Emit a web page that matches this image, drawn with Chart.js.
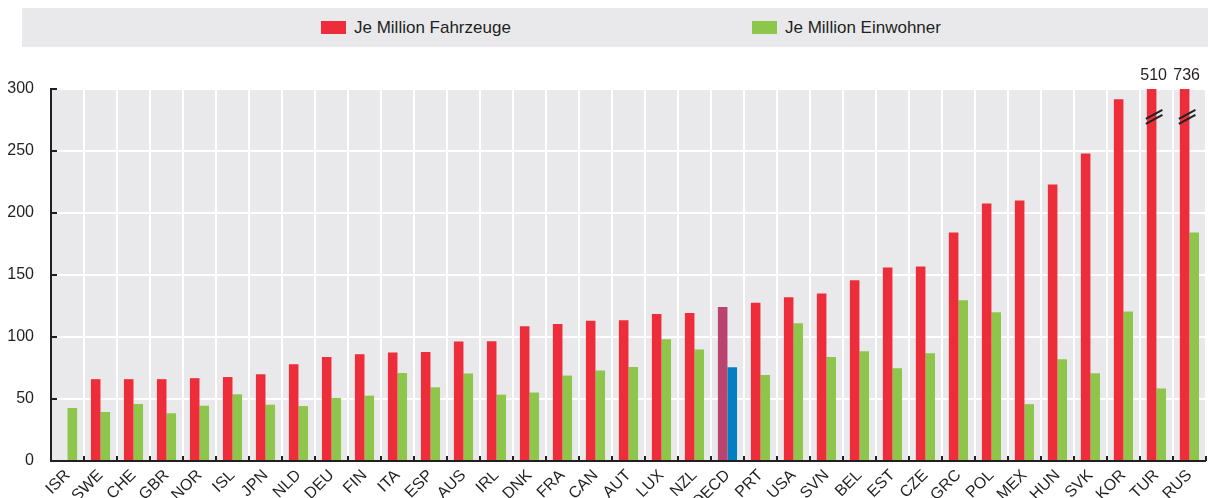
<!DOCTYPE html>
<html>
<head>
<meta charset="utf-8">
<script src="https://cdn.jsdelivr.net/npm/chart.js@4/dist/chart.umd.min.js"></script>
<style>
  html, body { margin: 0; padding: 0; background: #fff; }
  body { width: 1208px; height: 498px; position: relative; overflow: hidden; font-family: 'Liberation Sans', Arial, sans-serif; }
  #legend { position: absolute; left: 22px; top: 8px; width: 1186px; height: 39px; background: #e9e9ec; }
  #legend .item { position: absolute; top: 0; height: 39px; display: flex; align-items: center; font-size: 17px; color: #231f20; white-space: nowrap; }
  #legend .box { width: 25px; height: 13px; margin-right: 8px; }
  #wrap { position: absolute; left: 0; top: 0; width: 1208px; height: 498px; }
</style>
</head>
<body>
<div id="wrap"><canvas id="chart" width="1208" height="498"></canvas></div>
<div id="legend"></div>
<script>
const categories = ['ISR', 'SWE', 'CHE', 'GBR', 'NOR', 'ISL', 'JPN', 'NLD', 'DEU', 'FIN', 'ITA', 'ESP', 'AUS', 'IRL', 'DNK', 'FRA', 'CAN', 'AUT', 'LUX', 'NZL', 'OECD', 'PRT', 'USA', 'SVN', 'BEL', 'EST', 'CZE', 'GRC', 'POL', 'MEX', 'HUN', 'SVK', 'KOR', 'TUR', 'RUS'];
const perVehicle = [null, 66, 66, 66, 66.8, 67.7, 70, 78, 83.8, 86, 87.4, 88, 96.3, 96.5, 108.6, 110.5, 113.2, 113.5, 118.5, 119.4, 124.2, 127.7, 132, 135, 145.7, 156, 156.8, 184.2, 207.6, 210, 223, 248, 291.7, 510, 736];
const perInhabitant = [42.7, 39.5, 46, 38.5, 44.6, 53.8, 45.4, 44.3, 50.8, 52.7, 71, 59.4, 70.5, 53.5, 55.2, 68.9, 72.9, 75.8, 98.1, 90, 75.6, 69.4, 111, 83.8, 88.5, 74.8, 86.8, 129.6, 120, 45.8, 82, 70.8, 120.5, 58.5, 184.2];
const seriesNames = ['Je Million Fahrzeuge', 'Je Million Einwohner'];
const yTicks = [0, 50, 100, 150, 200, 250, 300];

const RED = '#ee2d3a', GREEN = '#8dc64a', OECD_RED = '#b8446f', OECD_GREEN = '#0080c0';
const INK = '#231f20';
const FONT = "'Liberation Sans', Arial, sans-serif";

const redColors = categories.map(c => c === 'OECD' ? OECD_RED : RED);
const greenColors = categories.map(c => c === 'OECD' ? OECD_GREEN : GREEN);

// html legend in the grey band
const legendX = [299, 730];
const legendEl = document.getElementById('legend');
[RED, GREEN].forEach((col, i) => {
    const item = document.createElement('div');
    item.className = 'item';
    item.style.left = legendX[i] + 'px';
    item.innerHTML = '<span class="box" style="background:' + col + '"></span><span>' + seriesNames[i] + '</span>';
    legendEl.appendChild(item);
});

const chartDecor = {
    id: 'chartDecor',
    beforeDraw(chart) {
        const { ctx, chartArea: a } = chart;
        ctx.save();
        ctx.fillStyle = '#e9e9ec';
        ctx.fillRect(a.left, a.top, a.right - a.left, a.bottom - a.top);
        ctx.restore();
    },
    afterDatasetsDraw(chart) {
        const { ctx, chartArea: a, scales: { x, y } } = chart;
        ctx.save();
        ctx.strokeStyle = INK;
        ctx.lineWidth = 2;
        // axis lines
        ctx.beginPath();
        ctx.moveTo(a.left, a.top - 1);
        ctx.lineTo(a.left, a.bottom);
        ctx.lineTo(a.right, a.bottom);
        ctx.stroke();
        // inside ticks on y
        y.ticks.forEach(t => {
            const py = y.getPixelForValue(t.value);
            ctx.beginPath();
            ctx.moveTo(a.left, py);
            ctx.lineTo(a.left + 6, py);
            ctx.stroke();
        });
        // inside ticks at category boundaries
        const n = categories.length;
        for (let i = 1; i <= n; i++) {
            const px = Math.round(x.left + i * (x.width / n));
            ctx.beginPath();
            ctx.moveTo(px, a.bottom);
            ctx.lineTo(px, a.bottom - 5);
            ctx.stroke();
        }
        // broken bars: value label + break mark
        const meta = chart.getDatasetMeta(0);
        const yMax = y.max;
        ctx.font = '16px ' + FONT;
        ctx.fillStyle = INK;
        ctx.textAlign = 'center';
        ctx.textBaseline = 'bottom';
        perVehicle.forEach((v, i) => {
            if (v == null || v <= yMax) return;
            const bar = meta.data[i];
            ctx.fillText(String(v), bar.x + 2, a.top - 5);
            const by = y.getPixelForValue(278);
            const x0 = bar.x - bar.width / 2 - 1, x1 = bar.x + bar.width / 2 + 6;
            [-2.5, 2.5].forEach(off => {
                ctx.beginPath();
                ctx.lineWidth = 2;
                ctx.strokeStyle = '#222';
                ctx.moveTo(x0, by + 5 + off);
                ctx.lineTo(x1, by - 4 + off);
                ctx.stroke();
            });
        });
        ctx.restore();
    }
};

new Chart(document.getElementById('chart'), {
    type: 'bar',
    data: {
        labels: categories,
        datasets: [
            { label: seriesNames[0], data: perVehicle, backgroundColor: redColors, borderWidth: 0 },
            { label: seriesNames[1], data: perInhabitant, backgroundColor: greenColors, borderWidth: 0 }
        ]
    },
    options: {
        responsive: false,
        animation: false,
        devicePixelRatio: 1,
        categoryPercentage: 0.58,
        barPercentage: 1,
        layout: { padding: { top: 89, left: 0, right: 0, bottom: 0 } },
        plugins: {
            legend: { display: false },
            tooltip: { enabled: false }
        },
        scales: {
            x: {
                offset: true,
                grid: { offset: true, color: '#ffffff', lineWidth: 2, drawTicks: false },
                border: { display: false },
                ticks: {
                    color: INK,
                    font: { family: FONT, size: 16 },
                    minRotation: 45,
                    maxRotation: 45,
                    autoSkip: false,
                    padding: 5
                },
                afterFit(scale) { scale.height = 37; }
            },
            y: {
                min: 0,
                max: 300,
                afterBuildTicks(scale) { scale.ticks = yTicks.map(v => ({ value: v })); },
                grid: { color: '#ffffff', lineWidth: 2, drawTicks: false },
                border: { display: false },
                ticks: {
                    color: INK,
                    font: { family: FONT, size: 16 },
                    padding: 17
                },
                afterFit(scale) { scale.width = 51; }
            }
        }
    },
    plugins: [chartDecor]
});
</script>
</body>
</html>
